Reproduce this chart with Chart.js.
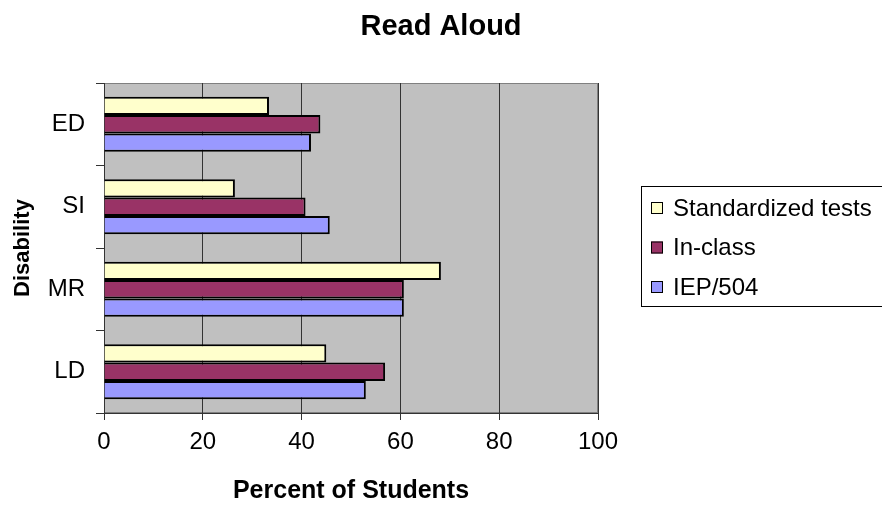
<!DOCTYPE html>
<html>
<head>
<meta charset="utf-8">
<script src="https://cdn.jsdelivr.net/npm/chart.js@4"></script>
<style>
  html, body { margin: 0; padding: 0; background: #fff; }
  #wrap { width: 882px; height: 506px; }
</style>
</head>
<body>
<div id="wrap"><canvas id="readAloud" width="882" height="506"></canvas></div>
<script>
// données
const categories = ['ED', 'SI', 'MR', 'LD'];
const seriesNames = ['Standardized tests', 'In-class', 'IEP/504'];
const standardized = [33.4, 26.5, 68.2, 45];
const inClass = [43.8, 40.8, 60.7, 56.9];
const iep504 = [41.9, 45.7, 60.7, 53];
const xTicks = [0, 20, 40, 60, 80, 100];

const couleurs = ['#FFFFCC', '#993366', '#9999FF'];
const police = '"Liberation Sans", Arial, sans-serif';

// fond gris de la zone de tracé + titre + légende encadrée
const excelLook = {
    id: 'excelLook',
    beforeDraw(chart) {
        const { ctx, chartArea: a } = chart;
        ctx.save();
        ctx.fillStyle = '#C0C0C0';
        ctx.fillRect(a.left, a.top, a.right - a.left, a.bottom - a.top);
        ctx.strokeStyle = '#808080';
        ctx.lineWidth = 1;
        ctx.strokeRect(a.left + 0.5, a.top + 0.5, a.right - a.left - 1, a.bottom - a.top - 1);
        ctx.restore();
    },
    afterDraw(chart) {
        const ctx = chart.ctx;
        ctx.save();
        // titre
        ctx.fillStyle = '#000';
        ctx.font = 'bold 29px ' + police;
        ctx.textAlign = 'center';
        ctx.textBaseline = 'alphabetic';
        ctx.fillText('Read Aloud', chart.width / 2, 35);

        // légende
        ctx.strokeStyle = '#000';
        ctx.lineWidth = 1;
        ctx.strokeRect(641.5, 186.5, 260, 120);
        ctx.font = '24px ' + police;
        ctx.textAlign = 'left';
        chart.data.datasets.forEach((ds, i) => {
            const yc = 207 + i * 39.5;
            ctx.fillStyle = ds.backgroundColor;
            ctx.fillRect(651, yc - 5, 12, 12);
            ctx.strokeStyle = '#000';
            ctx.strokeRect(651.5, yc - 4.5, 11, 11);
            ctx.fillStyle = '#000';
            ctx.fillText(ds.label, 673, yc + 8.5);
        });
        ctx.restore();
    }
};

const valeurs = [standardized, inClass, iep504];

new Chart(document.getElementById('readAloud'), {
    type: 'bar',
    data: {
        labels: categories,
        datasets: seriesNames.map((nom, i) => ({
            label: nom,
            data: valeurs[i],
            backgroundColor: couleurs[i],
            borderColor: '#000',
            borderWidth: 2,
            categoryPercentage: 0.667,
            barPercentage: 1.0
        }))
    },
    options: {
        indexAxis: 'y',
        responsive: false,
        animation: false,
        layout: { padding: { top: 83, right: 284, bottom: 0, left: 0 } },
        plugins: {
            legend: { display: false },
            title: { display: false },
            tooltip: { enabled: false }
        },
        scales: {
            x: {
                min: 0,
                max: 100,
                afterBuildTicks: (scale) => { scale.ticks = xTicks.map(v => ({ value: v })); },
                afterFit: (scale) => { scale.height = 93; },
                grid: { color: '#333', lineWidth: 1, tickLength: 7, drawTicks: true },
                border: { display: true, color: '#333', width: 1 },
                ticks: { color: '#000', font: { family: police, size: 24 }, padding: 8 },
                title: {
                    display: true,
                    text: 'Percent of Students',
                    color: '#000',
                    font: { family: police, size: 25, weight: 'bold' },
                    padding: { top: 0, bottom: 0 }
                }
            },
            y: {
                afterFit: (scale) => { scale.width = 104; },
                grid: { offset: true, drawOnChartArea: false, tickLength: 8, color: '#333' },
                border: { display: true, color: '#333', width: 1 },
                ticks: { color: '#000', font: { family: police, size: 24 }, padding: 11 },
                title: {
                    display: true,
                    text: 'Disability',
                    color: '#000',
                    font: { family: police, size: 22, weight: 'bold' },
                    padding: { top: 10, bottom: 0 }
                }
            }
        }
    },
    plugins: [excelLook]
});
</script>
</body>
</html>
